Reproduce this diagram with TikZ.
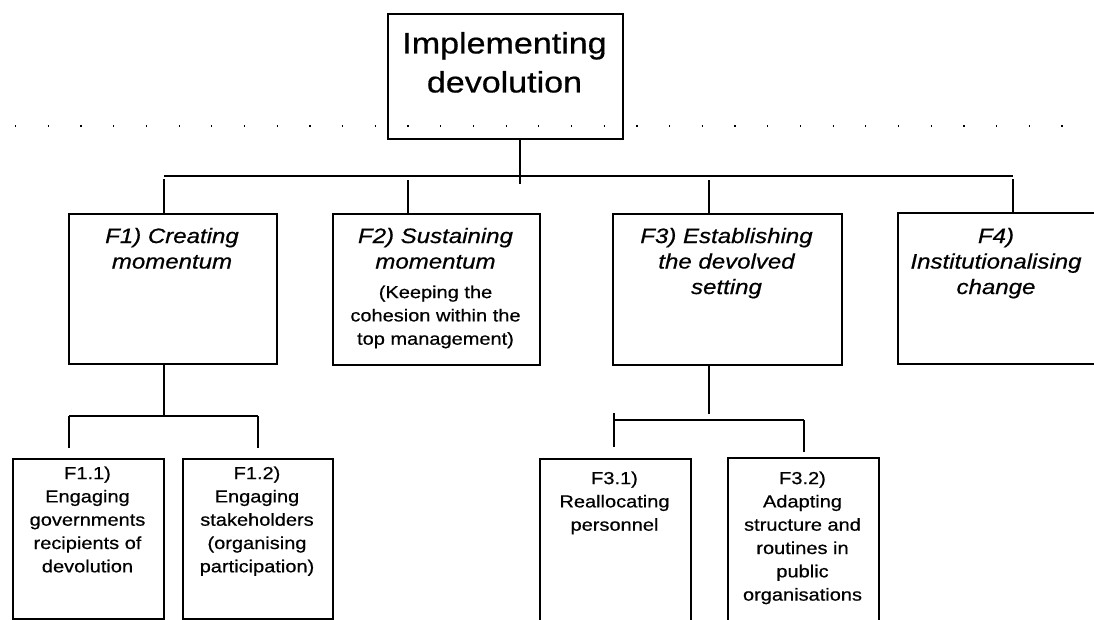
\documentclass[tikz,border=0pt]{standalone}
\usepackage{fontspec}
\newfontfamily\arialx[FakeStretch=1.15,FakeBold=0.6]{Liberation Sans}
\usetikzlibrary{calc}
\begin{document}
\begin{tikzpicture}[x=1pt,y=-1pt,
  box/.style={draw=black, line width=1.9pt, rectangle, inner sep=0pt, anchor=north west},
  conn/.style={draw=black, line width=1.7pt},
  mainbar/.style={draw=black, line width=2.5pt},
  dots/.style={draw=black, line width=1.2pt, dash pattern=on 1.2pt off 31.5pt},
  ttop/.style={font=\arialx\fontsize{29.6}{39}\selectfont, align=center, inner sep=0pt, anchor=north},
  ttwo/.style={font=\arialx\itshape\fontsize{20.9}{25.5}\selectfont, align=center, inner sep=0pt, anchor=north},
  tthree/.style={font=\arialx\fontsize{17.4}{23.3}\selectfont, align=center, inner sep=0pt, anchor=north}
]
\fill[white] (0,0) rectangle (1094,620);
\useasboundingbox (0,0) rectangle (1094,620);
\clip (0,0) rectangle (1094,620);

% dotted guide line
\draw[dots] (15,126) -- (1094,126);

% boxes
\node[box, minimum width=235, minimum height=125] (top) at (387,13) {};
\node[box, minimum width=208, minimum height=150] (f1) at (68,213) {};
\node[box, minimum width=207, minimum height=151] (f2) at (332,213) {};
\node[box, minimum width=229, minimum height=151] (f3) at (612,213) {};
\node[box, minimum width=199, minimum height=151] (f4) at (897,212) {};
\node[box, minimum width=151, minimum height=160] (f11) at (12,458) {};
\node[box, minimum width=150, minimum height=160] (f12) at (182,458) {};
\node[box, minimum width=151, minimum height=175] (f31) at (539,458) {};
\node[box, minimum width=151, minimum height=175] (f32) at (727,457) {};

% texts
\node[ttop] (toptxt) at (504.5,31.8) {Implementing\\devolution};
\node[ttwo] (f1txt) at (172,227.7) {F1) Creating\\momentum};
\node[ttwo] (f2txt) at (435.5,227.7) {F2) Sustaining\\momentum};
\node[tthree] (f2sub) at (435.5,285.3) {(Keeping the\\cohesion within the\\top management)};
\node[ttwo] (f3txt) at (726.5,227.7) {F3) Establishing\\the devolved\\setting};
\node[ttwo] (f4txt) at (996,227.7) {F4)\\Institutionalising\\change};
\node[tthree] (f11txt) at (87.5,466.3) {F1.1)\\Engaging\\governments\\recipients of\\devolution};
\node[tthree] (f12txt) at (257,466.3) {F1.2)\\Engaging\\stakeholders\\(organising\\participation)};
\node[tthree] (f31txt) at (614.5,471.3) {F3.1)\\Reallocating\\personnel};
\node[tthree] (f32txt) at (802.5,471.3) {F3.2)\\Adapting\\structure and\\routines in\\public\\organisations};

% top level connectors
\coordinate (barL) at ($(f1.north)+(-9,-37)$);
\coordinate (barR) at ($(f4.north)+(15.5,-36)$);
\draw[mainbar] (barL) -- (barR);
\draw[conn] ($(top.south)+(14.5,0)$) -- ++(0,44);
\draw[conn] ($(f1.north)+(-9,0)$) -- ++(0,-34);
\draw[conn] ($(f2.north)+(-28.5,0)$) -- ++(0,-33);
\draw[conn] ($(f3.north)+(-18.5,0)$) -- ++(0,-33);
\draw[conn] ($(f4.north)+(15.5,0)$) -- ++(0,-33);

% F1 sub-connectors
\draw[conn] ($(f1.south)+(-9,0)$) -- ++(0,52);
\coordinate (h1a) at ($(f11.north)+(-19.5,-42)$);
\coordinate (h1b) at ($(f12.north)+(0,-42)$);
\draw[conn] (h1a) -- (h1b);
\draw[conn] (h1a) -- ++(0,32);
\draw[conn] (h1b) -- ++(0,32);

% F3 sub-connectors
\draw[conn] ($(f3.south)+(-18.5,0)$) -- ++(0,48);
\coordinate (h3a) at ($(f31.north)+(-1.5,-38)$);
\coordinate (h3b) at ($(f32.north)+(0.5,-37)$);
\draw[conn] (h3a) -- (h3b);
\draw[conn] ($(h3a)+(0,-7)$) -- ++(0,34);
\draw[conn] (h3b) -- ++(0,32);
\end{tikzpicture}
\end{document}
